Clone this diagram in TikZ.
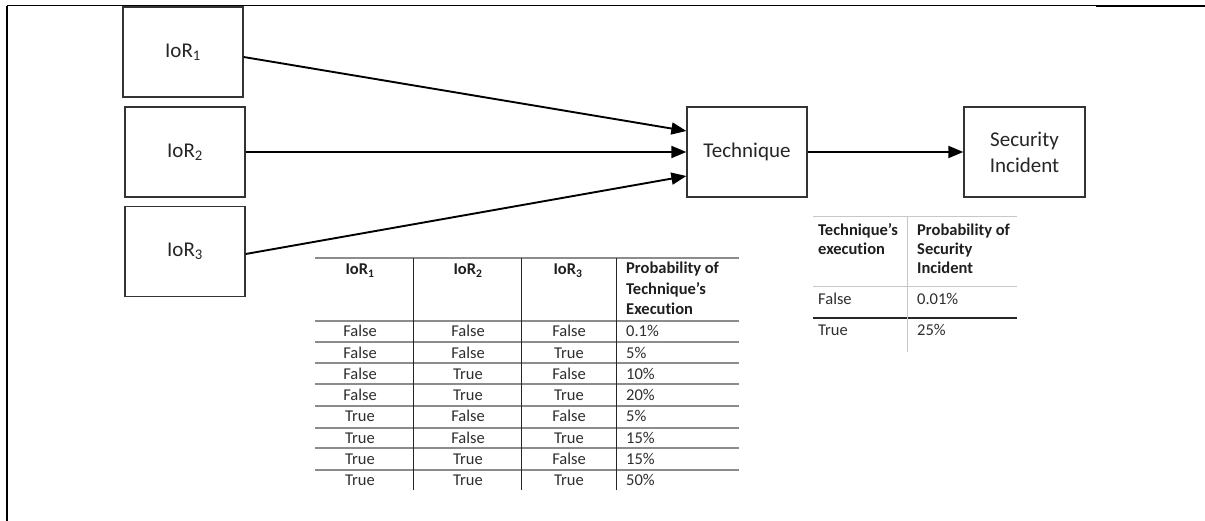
\documentclass[tikz,border=0pt]{standalone}
\usepackage{fontspec}
\setmainfont{Carlito}[Ligatures=NoCommon]
\usetikzlibrary{arrows.meta}
\begin{document}
\begin{tikzpicture}[x=1pt,y=-1pt,
  box/.style={draw=black!80,line width=1.3pt,minimum width=120pt,minimum height=90pt,
    inner sep=0pt,align=center,text=black!85,font=\fontsize{21}{26}\selectfont},
  arr/.style={line width=1.9pt,-{Triangle[length=15pt,width=12pt]}},
  cell/.style={inner sep=0pt,text=black!82,font=\fontsize{16.5}{20.5}\selectfont},
  hcell/.style={inner sep=0pt,text=black!88,font=\fontsize{16.5}{20.5}\selectfont\bfseries},
  hrule/.style={draw=black!45,line width=1.2pt},
  vrule/.style={draw=black!85,line width=1pt},
  lightrule/.style={draw=black!22,line width=1pt},
  darkrule/.style={draw=black!85,line width=1.4pt}]
\useasboundingbox (0,0) rectangle (1205,521);
\fill[white] (0,0) rectangle (1205,521);

% page frame
\draw[line width=2.5pt] (7,521) -- (7,6);
\draw[line width=1pt] (7,6) -- (1096,6);
\draw[line width=2pt] (1096,6.5) -- (1205,6.5);

% network nodes
\node[box] (ior1) at (183,52) {IoR\textsubscript{1}};
\node[box] (ior2) at (185,152) {IoR\textsubscript{2}};
\node[box] (ior3) at (185,251.5) {IoR\textsubscript{3}};
\node[box] (tech) at (747,152) {Technique};
\node[box,minimum width=121pt] (sec) at (1024.5,152) {Security\\Incident};

% dependencies
\draw[arr] ([yshift=-5pt]ior1.east) -- ([yshift=21pt]tech.west);
\draw[arr] (ior2.east) -- (tech.west);
\draw[arr] ([yshift=-2.5pt]ior3.east) -- ([yshift=-24pt]tech.west);
\draw[arr] (tech.east) -- (sec.west);

% conditional probability table of the technique
\foreach \y in {258,321,342,363,384,406,428,448,470}
  \draw[hrule] (315,\y) -- (739,\y);
\foreach \x in {413,521,616}
  \draw[vrule] (\x,258) -- (\x,490);
\node[hcell,anchor=base] (th1) at (360,275) {IoR\textsubscript{1}};
\node[hcell,anchor=base] (th2) at (468,275) {IoR\textsubscript{2}};
\node[hcell,anchor=base] (th3) at (568,275) {IoR\textsubscript{3}};
\node[hcell,anchor=base west] (th4a) at (626,274) {Probability of};
\node[hcell,anchor=base west] (th4b) at (626,294.5) {Technique’s};
\node[hcell,anchor=base west] (th4c) at (626,315) {Execution};
\foreach \a/\b/\c/\p [count=\i] in {
  False/False/False/0.1\%,
  False/False/True/5\%,
  False/True/False/10\%,
  False/True/True/20\%,
  True/False/False/5\%,
  True/False/True/15\%,
  True/True/False/15\%,
  True/True/True/50\%}{
  \pgfmathsetmacro{\yb}{337+21.2*(\i-1)}
  \node[cell,anchor=base] (ta\i) at (360,\yb) {\a};
  \node[cell,anchor=base] (tb\i) at (468,\yb) {\b};
  \node[cell,anchor=base] (tc\i) at (569,\yb) {\c};
  \node[cell,anchor=base west] (tp\i) at (626,\yb) {\p};
}

% conditional probability table of the security incident
\draw[lightrule] (813,217) -- (1017,217);
\draw[lightrule] (813,287) -- (1017,287);
\draw[darkrule] (813,318) -- (1017,318);
\draw[lightrule] (907,217) -- (907,352);
\node[hcell,anchor=base west] (sh1a) at (818,236) {Technique’s};
\node[hcell,anchor=base west] (sh1b) at (818,255) {execution};
\node[hcell,anchor=base west] (sh2a) at (917,236) {Probability of};
\node[hcell,anchor=base west] (sh2b) at (917,255) {Security};
\node[hcell,anchor=base west] (sh2c) at (917,274) {Incident};
\node[cell,anchor=base west] (sf1) at (818,305) {False};
\node[cell,anchor=base west] (sf2) at (917,305) {0.01\%};
\node[cell,anchor=base west] (st1) at (818,335) {True};
\node[cell,anchor=base west] (st2) at (917,335) {25\%};
\end{tikzpicture}
\end{document}
